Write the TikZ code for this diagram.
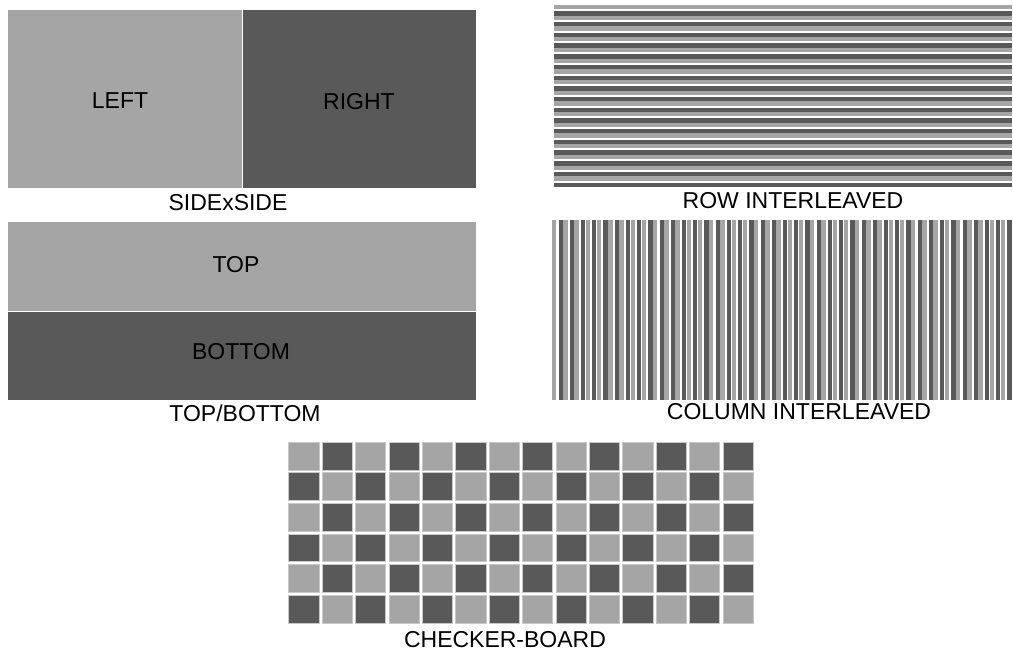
\documentclass[tikz,border=0pt]{standalone}
\usepackage{fontspec}
\setmainfont{Liberation Sans}
\definecolor{lightg}{HTML}{A5A5A5}
\definecolor{darkg}{HTML}{595959}
\definecolor{edgeg}{HTML}{C8C8C8}
\begin{document}
\begin{tikzpicture}[x=1pt,y=-1pt,
  lbl/.style={font=\fontsize{23}{27}\selectfont, text=black, inner sep=0pt},
  lightfill/.style={fill=lightg},
  darkfill/.style={fill=darkg},
  cell/.style={draw=edgeg, line width=0.6pt}]
\useasboundingbox (0,0) rectangle (1013,656);
\fill[white] (0,0) rectangle (1013,656);
% SIDE x SIDE
\fill[lightfill] (8,10) rectangle (242,188);
\fill[darkfill] (242,10) rectangle (476,188);
\draw[white, line width=0.8pt] (242,10) -- (242,188);
\node[lbl] (left) at (120,101) {LEFT};
\node[lbl] (right) at (359,102) {RIGHT};
\node[lbl] (sbs) at (228,203) {SIDExSIDE};
% TOP / BOTTOM
\fill[lightfill] (8,222) rectangle (476,311);
\fill[darkfill] (8,311) rectangle (476,400);
\draw[white, line width=0.8pt] (8,311) -- (476,311);
\node[lbl] (top) at (236,265) {TOP};
\node[lbl] (bottom) at (241,352) {BOTTOM};
\node[lbl] (tb) at (245,413) {TOP/BOTTOM};
% ROW INTERLEAVED
\foreach \i in {0,...,16} {
  \pgfmathsetmacro\yy{5+\i*10.7}
  \fill[lightfill] (554,\yy) rectangle (1012,\yy+4.35);
  \fill[darkfill] (554,\yy+6.35) rectangle (1012,\yy+10.7);
}
\node[lbl] (row) at (793,201) {ROW INTERLEAVED};
% COLUMN INTERLEAVED
\foreach \i in {0,...,40} {
  \pgfmathsetmacro\xx{552+\i*11.22}
  \fill[lightfill] (\xx,220) rectangle (\xx+4.4,400);
  \fill[darkfill] (\xx+6.6,220) rectangle (\xx+10.8,400);
}
\node[lbl] (col) at (799,412) {COLUMN INTERLEAVED};
% CHECKER-BOARD
\foreach \r in {0,...,5} {
  \foreach \c in {0,...,13} {
    \ifodd\numexpr\r+\c\relax \def\col{darkg}\else\def\col{lightg}\fi
    \pgfmathsetmacro\xx{288.6+\c*33.4}
    \pgfmathsetmacro\yy{442+\r*30.6}
    \filldraw[cell, fill=\col] (\xx,\yy) rectangle (\xx+30.2,\yy+27.8);
  }
}
\node[lbl] (cb) at (505,640) {CHECKER-BOARD};
\end{tikzpicture}
\end{document}
